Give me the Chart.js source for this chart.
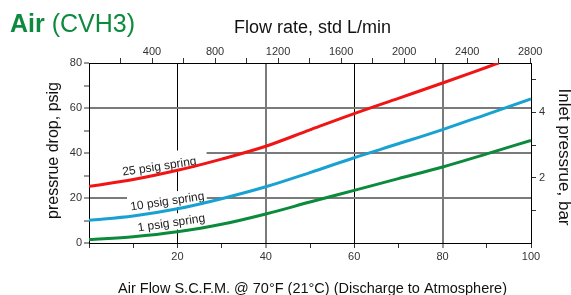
<!DOCTYPE html>
<html>
<head>
<meta charset="utf-8">
<script src="https://cdn.jsdelivr.net/npm/chart.js@4.4.1/dist/chart.umd.min.js"></script>
<style>
  html, body { margin: 0; padding: 0; background: #fff; }
</style>
</head>
<body>
<canvas id="chart" width="571" height="295"></canvas>
<script>
// Data
const flowScfm = [0, 10, 20, 30, 40, 50, 60, 70, 80, 90, 100];
const flowScfm25 = [0, 10, 20, 30, 40, 50, 60, 70, 80, 90, 92.7];
const drop25 = [25.2, 28.2, 32.3, 37.3, 43.0, 50.3, 57.5, 64.3, 71.1, 78.1, 80];
const drop10 = [10.1, 12.0, 15.2, 19.7, 25.0, 31.3, 37.9, 44.1, 50.4, 57.2, 64.0];
const drop1 = [1.5, 2.8, 5.0, 8.3, 12.9, 18.2, 23.4, 28.6, 33.8, 39.6, 45.6];
const springLabels = ['25 psig spring', '10 psig spring', '1 psig spring'];
const bottomTicks = [20, 40, 60, 80, 100];
const leftTicks = [0, 20, 40, 60, 80];
const topTicks = [400, 800, 1200, 1600, 2000, 2400, 2800];
const topMinorTicks = [200, 600, 1000, 1400, 1800, 2200, 2600];
const rightTicks = [2, 4];
const rightMinorTicks = [1, 3, 5];

const FONT = "'Liberation Sans', Arial, Helvetica, sans-serif";
const tickFont = { family: FONT, size: 11 };
const GREEN = '#0e8a3e';

const toPoints = (xs, ys) => xs.map((v, i) => ({ x: v, y: ys[i] }));
const setTicks = list => s => { s.ticks = list.slice().sort((a, b) => a - b).map(v => ({ value: v })); };

// vertical grid: 20 and 60 black, 40 and 80 grey
const xGridColor = v => (v === 20 || v === 60) ? '#000' : (v === 40 || v === 80) ? '#7a7a7a' : 'rgba(0,0,0,0)';
const xGridWidth = v => (v === 40 || v === 80) ? 2 : 1;
const yGridColor = v => (v === 20 || v === 40 || v === 60) ? '#7a7a7a' : 'rgba(0,0,0,0)';

// spring notes, with white boxes behind them
const springNotes = {
  id: 'springNotes',
  beforeDatasetsDraw(chart) {
    const { ctx, scales: { x, y } } = chart;
    const spots = [[15.9, 34.3], [17.7, 18.8], [18.6, 9.2]];
    ctx.save();
    ctx.fillStyle = '#fff';
    ctx.fillRect(x.getPixelForValue(0) + 1, y.getPixelForValue(40) - 2.5, x.getPixelForValue(26.6) - x.getPixelForValue(0) - 1, 5);
    ctx.fillRect(x.getPixelForValue(8.6), y.getPixelForValue(20) - 2.5, x.getPixelForValue(26.6) - x.getPixelForValue(8.6), 5);
    ctx.font = '12px ' + FONT;
    ctx.textAlign = 'center';
    ctx.textBaseline = 'middle';
    spots.forEach((s, i) => {
      ctx.save();
      ctx.translate(x.getPixelForValue(s[0]), y.getPixelForValue(s[1]));
      ctx.rotate(-8.5 * Math.PI / 180);
      const w = ctx.measureText(springLabels[i]).width;
      ctx.fillStyle = '#fff';
      ctx.fillRect(-w / 2 - 2, -8, w + 4, 16);
      ctx.fillStyle = '#222';
      ctx.fillText(springLabels[i], 0, 1);
      ctx.restore();
    });
    ctx.restore();
  }
};

// titles
const titles = {
  id: 'titles',
  afterDraw(chart) {
    const ctx = chart.ctx;
    ctx.save();
    ctx.textBaseline = 'alphabetic';
    ctx.fillStyle = GREEN;
    ctx.textAlign = 'left';
    ctx.font = 'bold 25px ' + FONT;
    ctx.fillText('Air', 10, 31.5);
    const w = ctx.measureText('Air ').width;
    ctx.font = '25px ' + FONT;
    ctx.fillText('(CVH3)', 10 + w, 31.5);

    ctx.fillStyle = '#111';
    ctx.textAlign = 'center';
    ctx.font = '18px ' + FONT;
    ctx.fillText('Flow rate, std L/min', 312.5, 33);
    ctx.font = '14.5px ' + FONT;
    ctx.fillText('Air Flow S.C.F.M. @ 70°F (21°C) (Discharge to Atmosphere)', 312.5, 292.5);

    ctx.textBaseline = 'middle';
    ctx.save();
    ctx.translate(53.5, 150.5);
    ctx.rotate(-Math.PI / 2);
    ctx.font = '16px ' + FONT;
    ctx.fillText('pressrue drop, psig', 0, 0);
    ctx.restore();

    ctx.save();
    ctx.translate(564, 157);
    ctx.rotate(Math.PI / 2);
    ctx.font = '17px ' + FONT;
    ctx.fillText('Inlet pressrue, bar', 0, 0);
    ctx.restore();
    ctx.restore();
  }
};

new Chart(document.getElementById('chart'), {
  type: 'line',
  data: {
    datasets: [
      { label: springLabels[0], data: toPoints(flowScfm25, drop25), borderColor: '#f01414' },
      { label: springLabels[1], data: toPoints(flowScfm, drop10), borderColor: '#19a1d1' },
      { label: springLabels[2], data: toPoints(flowScfm, drop1), borderColor: '#0b8a3b' }
    ]
  },
  options: {
    responsive: false,
    animation: false,
    layout: { padding: 0 },
    elements: {
      point: { radius: 0 },
      line: { borderWidth: 3, cubicInterpolationMode: 'monotone', fill: false }
    },
    plugins: { legend: { display: false }, tooltip: { enabled: false } },
    scales: {
      x: {
        type: 'linear', position: 'bottom', min: 0, max: 100,
        afterFit: s => { s.height = 52; },
        ticks: { stepSize: 10, maxTicksLimit: 30, autoSkip: false, maxRotation: 0, padding: 2, color: '#333', font: tickFont,
                 callback: v => bottomTicks.includes(v) ? v : '' },
        grid: { color: c => xGridColor(c.tick.value), lineWidth: c => xGridWidth(c.tick.value),
                tickColor: '#333', tickWidth: 1, tickLength: 5 },
        border: { color: '#000', width: 1 }
      },
      x2: {
        type: 'linear', position: 'top', min: 0, max: 2805,
        afterBuildTicks: setTicks(topTicks.concat(topMinorTicks)),
        afterFit: s => { s.height = 63; },
        ticks: { autoSkip: false, maxRotation: 0, padding: -1, color: '#333', font: tickFont,
                 callback: v => topTicks.includes(v) ? v : '' },
        grid: { drawOnChartArea: false, tickColor: '#333', tickWidth: 1, tickLength: 5 },
        border: { color: '#000', width: 1 }
      },
      y: {
        type: 'linear', position: 'left', min: 0, max: 80,
        afterFit: s => { s.width = 89; },
        ticks: { stepSize: 10, maxTicksLimit: 30, autoSkip: false, padding: 2, color: '#333', font: tickFont,
                 callback: v => leftTicks.includes(v) ? v : '' },
        grid: { color: c => yGridColor(c.tick.value), lineWidth: 2,
                tickColor: '#333', tickWidth: 1, tickLength: 5 },
        border: { color: '#000', width: 1 }
      },
      y2: {
        type: 'linear', position: 'right', min: 0, max: 80 / 14.504,
        afterBuildTicks: setTicks(rightTicks.concat(rightMinorTicks)),
        afterFit: s => { s.width = 40; },
        ticks: { autoSkip: false, padding: 3, color: '#333', font: tickFont,
                 callback: v => rightTicks.includes(v) ? v : '' },
        grid: { drawOnChartArea: false, tickColor: '#333', tickWidth: 1, tickLength: 5 },
        border: { color: '#000', width: 1 }
      }
    }
  },
  plugins: [springNotes, titles]
});
</script>
</body>
</html>
